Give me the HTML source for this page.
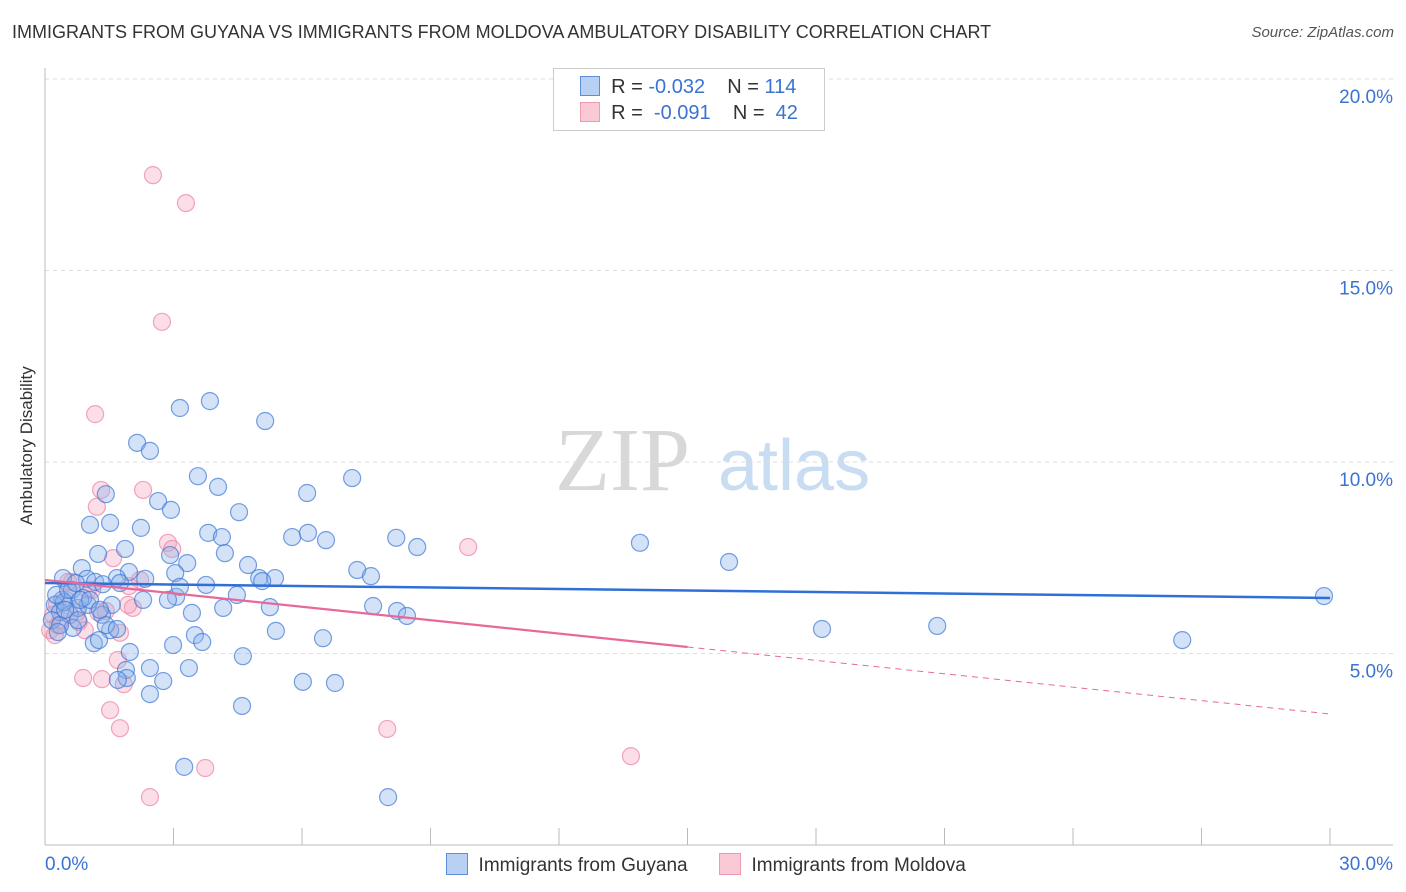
<!DOCTYPE html>
<html><head><meta charset="utf-8"><style>
body{margin:0;background:#fff;font-family:"Liberation Sans",sans-serif;}
#wrap{position:relative;width:1406px;height:892px;overflow:hidden}
.t{position:absolute;white-space:nowrap}
</style></head><body><div id="wrap">
<div class="t" style="left:12px;top:22px;font-size:18px;color:#333">IMMIGRANTS FROM GUYANA VS IMMIGRANTS FROM MOLDOVA AMBULATORY DISABILITY CORRELATION CHART</div>
<div class="t" style="right:12px;top:24px;font-size:15px;color:#555;font-style:italic">Source: ZipAtlas.com</div>
<div class="t" style="left:-43px;top:445px;font-size:17px;color:#333;transform:rotate(-90deg);width:140px;text-align:center">Ambulatory Disability</div>
<svg id="svg" width="1406" height="892" style="position:absolute;left:0;top:0"></svg>
</div>
<script>
const bx=[2.15,2.45,3.15,3.85,5.14,3.57,4.04,2.64,2.94,4.53,6.12,7.17,1.05,1.52,2.24,3.81,4.13,5.77,6.14,6.56,8.20,8.69,13.89,15.97,29.86,1.42,1.24,1.87,2.92,4.20,4.74,3.32,3.04,2.34,1.96,1.68,1.75,0.86,0.42,0.98,1.17,1.35,3.76,5.00,5.37,7.29,7.61,7.66,8.22,8.45,4.48,3.06,2.87,2.29,1.56,3.43,4.16,5.07,5.25,3.15,5.39,6.49,3.50,3.67,2.99,1.98,1.52,1.33,1.42,1.68,1.14,1.26,0.40,0.23,0.35,0.58,0.16,0.77,1.00,0.63,0.44,0.26,0.89,0.65,1.89,2.45,2.76,1.91,1.70,3.36,4.62,2.45,4.60,3.25,8.01,6.02,6.77,18.14,20.83,26.55,0.54,0.82,0.35,0.47,0.72,1.05,1.28,0.30,0.77];
const by=[10.50,10.29,11.41,11.59,11.07,9.63,9.35,8.98,8.75,8.69,9.19,9.58,8.36,8.41,8.28,8.15,8.04,8.04,8.15,7.96,8.02,7.78,7.89,7.39,6.50,9.16,7.60,7.73,7.57,7.62,7.31,7.36,7.10,6.95,7.13,6.97,6.84,7.23,6.97,6.95,6.87,6.81,6.79,6.97,6.97,7.18,7.02,6.24,6.11,5.98,6.53,6.48,6.40,6.40,6.27,6.06,6.19,6.89,6.21,6.74,5.59,5.40,5.48,5.30,5.22,5.04,5.61,6.01,5.74,5.64,5.27,5.35,6.40,6.27,6.08,6.01,5.87,6.19,6.27,6.66,6.34,6.53,6.45,5.67,4.57,4.62,4.28,4.36,4.31,4.62,4.93,3.94,3.63,2.04,1.25,4.26,4.23,5.64,5.72,5.35,6.66,6.40,5.74,6.14,6.84,6.40,6.14,5.56,5.87];
const px=[2.52,3.29,2.73,1.17,1.31,2.29,1.21,2.87,2.97,9.88,1.59,2.22,1.96,1.10,1.24,0.79,1.42,0.49,0.28,0.19,0.12,0.23,0.93,0.30,0.63,1.00,2.05,0.75,1.75,1.70,0.89,1.33,1.84,1.52,1.75,7.99,13.68,3.74,2.45,0.54,0.37,1.94];
const py=[17.49,16.76,13.66,11.25,9.27,9.27,8.83,7.89,7.73,7.78,7.49,6.92,6.76,6.66,6.08,5.82,6.11,6.40,6.29,6.01,5.61,5.48,5.61,5.74,6.87,6.66,6.19,6.08,5.54,4.83,4.36,4.33,4.20,3.52,3.05,3.03,2.32,2.01,1.25,6.87,5.87,6.27];
const blueTrend=[6.84,6.45];
const pinkTrend=[6.92,3.42];
const pinkSolidEnd=15;
const yTicks=[5,10,15,20];
const xTicks=[0,3,6,9,12,15,18,21,24,27,30];

const X=v=>45+v*(1285/30), Y=v=>845-v*38.3;
const svg=document.getElementById('svg');const NS='http://www.w3.org/2000/svg';
function mk(tag,attrs,parent){const e=document.createElementNS(NS,tag);for(const k in attrs)e.setAttribute(k,attrs[k]);(parent||svg).appendChild(e);return e;}
// watermark
let wm=mk('text',{x:555,y:490,'font-size':90,'font-family':'Liberation Serif, serif',fill:'#d8d8d8'});wm.textContent='ZIP';


let wm2=mk('text',{x:718,y:490,'font-size':72,'font-family':'Liberation Sans, sans-serif',fill:'#c8dcf2'});wm2.textContent='atlas';


yTicks.forEach(t=>{
 const g=mk('line',{x1:45,x2:1393,y1:Y(t),y2:Y(t),stroke:'#ddd','stroke-dasharray':'4,4'});
 
 
 const l=mk('text',{x:1393,y:Y(t)+24,'text-anchor':'end','font-size':19,fill:'#3b73d1'});l.textContent=t.toFixed(1)+'%';
 
 
});
const ax=mk('line',{x1:45,x2:45,y1:68,y2:845,stroke:'#bbb'});


const xa=mk('line',{x1:45,x2:1393,y1:845,y2:845,stroke:'#bbb'});


xTicks.forEach(t=>{
 const k=mk('line',{x1:X(t),x2:X(t),y1:828,y2:845,stroke:'#bbb'});
 
 
});
[[0,'start',45],[30,'end',1393]].forEach(([t,a,xx])=>{
 const l=mk('text',{x:xx,y:870,'text-anchor':a,'font-size':19,fill:'#3b73d1'});l.textContent=t.toFixed(1)+'%';
 
 
});
px.forEach((v,i)=>{
 const c=mk('circle',{cx:X(v),cy:Y(py[i]),r:8.5,fill:'rgba(244,160,185,0.35)',stroke:'rgba(236,130,160,0.7)','stroke-width':1.2});
 
 
});
bx.forEach((v,i)=>{
 const c=mk('circle',{cx:X(v),cy:Y(by[i]),r:8.5,fill:'rgba(140,180,235,0.38)',stroke:'rgba(60,120,215,0.7)','stroke-width':1.2});
 
 
});
const pAt=x=>pinkTrend[0]+(pinkTrend[1]-pinkTrend[0])*x/30;
const bl=mk('line',{x1:X(0),y1:Y(blueTrend[0]),x2:X(30),y2:Y(blueTrend[1]),stroke:'#2f6fd6','stroke-width':2.5});


const pl=mk('line',{x1:X(0),y1:Y(pAt(0)),x2:X(pinkSolidEnd),y2:Y(pAt(pinkSolidEnd)),stroke:'#e8689a','stroke-width':2.2});


const pd=mk('line',{x1:X(pinkSolidEnd),y1:Y(pAt(pinkSolidEnd)),x2:X(30),y2:Y(pAt(30)),stroke:'#e8689a','stroke-width':1,'stroke-dasharray':'6,5'});


</script>
<div style="position:absolute;left:553px;top:68px;width:270px;height:61px;border:1px solid #ccc;background:#fff;font-size:20px;color:#333">
 <div style="position:absolute;left:26px;top:7px;white-space:nowrap"><span style="display:inline-block;width:18px;height:18px;background:#b7d0f3;border:1px solid #5b8fdc;vertical-align:-3px"></span>&nbsp; R = <span style="color:#3b73d1">-0.032</span>&nbsp;&nbsp;&nbsp; N = <span style="color:#3b73d1">114</span></div>
 <div style="position:absolute;left:26px;top:33px;white-space:nowrap"><span style="display:inline-block;width:18px;height:18px;background:#f9c9d6;border:1px solid #ef9ab2;vertical-align:-3px"></span>&nbsp; R = &nbsp;<span style="color:#3b73d1">-0.091</span>&nbsp;&nbsp;&nbsp; N = &nbsp;<span style="color:#3b73d1">42</span></div>
</div>
<div style="position:absolute;left:446px;top:853px;font-size:19px;color:#333;white-space:nowrap">
 <span><span style="display:inline-block;width:20px;height:20px;background:#b7d0f3;border:1px solid #5b8fdc;vertical-align:-4px"></span>&nbsp; Immigrants from Guyana</span>
 <span style="margin-left:26px"><span style="display:inline-block;width:20px;height:20px;background:#f9c9d6;border:1px solid #ef9ab2;vertical-align:-4px"></span>&nbsp; Immigrants from Moldova</span>
</div>
</body></html>
